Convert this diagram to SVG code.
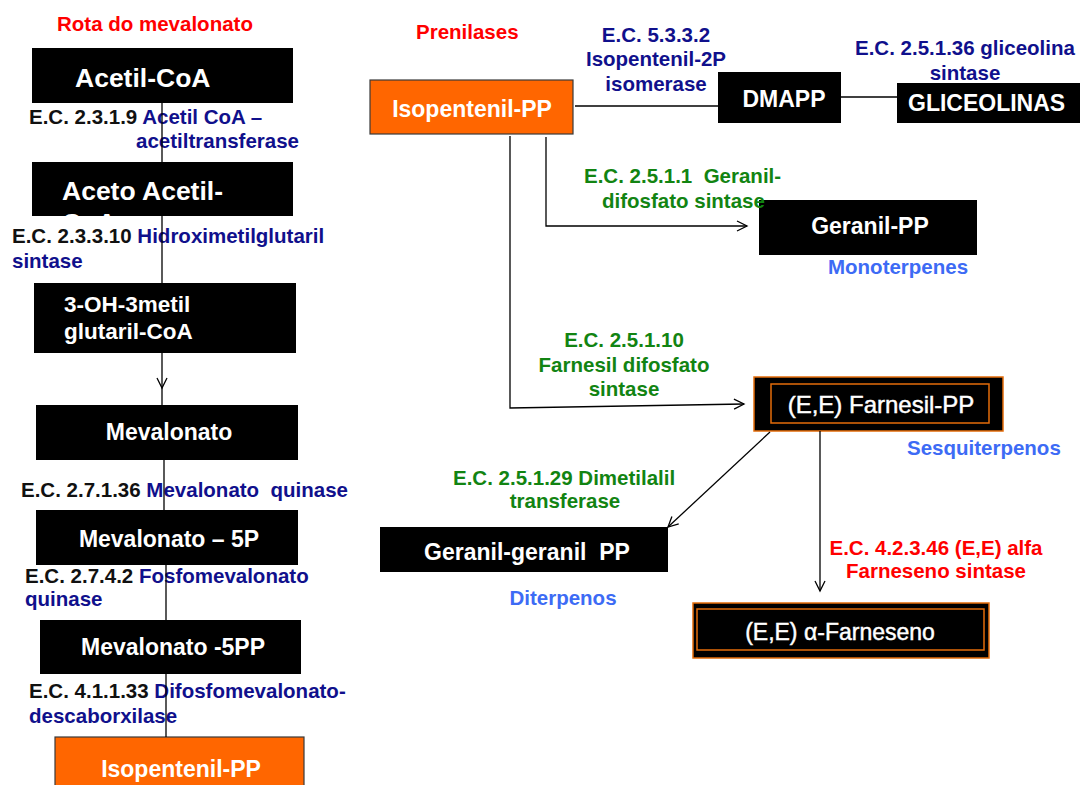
<svg xmlns="http://www.w3.org/2000/svg" width="1080" height="785" viewBox="0 0 1080 785">
<style>
text{font-family:"Liberation Sans",Arial,sans-serif;font-weight:bold}
.lab{font-size:20.5px}
.node{fill:#000}
.orange{fill:#FF6600;stroke:#3a3a3a;stroke-width:1.2}
.nt{fill:#fff;font-size:23px}
.big{fill:#fff;font-size:26.5px}
.reg{font-weight:normal;stroke:#fff;stroke-width:0.45}
.k{fill:#111}
.nv{fill:#10108C}
.gr{fill:#128412}
.bl{fill:#3D6BF5}
.rd{fill:#FF0000}
.c{text-anchor:middle}
.ln{stroke:#000;stroke-width:1.3;fill:none}
.ob{stroke:#E46C0A;stroke-width:1.5}
</style>
<defs>
<marker id="arr" markerUnits="userSpaceOnUse" markerWidth="14" markerHeight="14" viewBox="0 0 14 14" refX="12" refY="7" orient="auto">
<path d="M2,2 L12,7 L2,12" fill="none" stroke="#000" stroke-width="1.3"/>
</marker>
<clipPath id="acetoClip"><rect x="32" y="162" width="261" height="55"/></clipPath>
</defs>
<rect width="1080" height="785" fill="#fff"/>

<!-- titles -->
<text class="lab rd" x="57" y="31">Rota do mevalonato</text>
<text class="lab rd" x="416" y="39">Prenilases</text>

<!-- left column nodes -->
<g id="acetilcoa"><rect class="node" x="32" y="48" width="261" height="55"/><text class="big" x="75" y="87">Acetil-CoA</text></g>
<g id="acetoacetil"><rect class="node" x="32" y="162" width="261" height="54"/><g clip-path="url(#acetoClip)"><text class="big" x="62" y="200">Aceto Acetil-</text><text class="big" x="62" y="232">CoA</text></g></g>
<g id="hmg"><rect class="node" x="34" y="283" width="262" height="70"/><text class="nt" x="64" y="312" style="font-size:22.5px">3-OH-3metil</text><text class="nt" x="64" y="339" style="font-size:22.5px">glutaril-CoA</text></g>
<g id="mevalonato"><rect class="node" x="36" y="405" width="262" height="55"/><text class="nt c" x="169" y="440">Mevalonato</text></g>
<g id="mev5p"><rect class="node" x="36" y="510" width="262" height="55"/><text class="nt c" x="169" y="547">Mevalonato – 5P</text></g>
<g id="mev5pp"><rect class="node" x="40" y="620" width="261" height="54"/><text class="nt c" x="173" y="655">Mevalonato -5PP</text></g>
<g id="ipp-left"><rect class="orange" x="55" y="737" width="249" height="60"/><text class="nt c" x="181" y="777">Isopentenil-PP</text></g>

<!-- left enzyme labels -->
<g id="ec1"><text class="lab" x="29" y="124"><tspan class="k">E.C. 2.3.1.9 </tspan><tspan class="nv">Acetil CoA –</tspan></text><text class="lab nv" x="136" y="148">acetiltransferase</text></g>
<g id="ec2"><text class="lab" x="12" y="243"><tspan class="k">E.C. 2.3.3.10 </tspan><tspan class="nv">Hidroximetilglutaril</tspan></text><text class="lab nv" x="12" y="268">sintase</text></g>
<g id="ec3"><text class="lab" x="21" y="497" xml:space="preserve"><tspan class="k">E.C. 2.7.1.36 </tspan><tspan class="nv">Mevalonato  quinase</tspan></text></g>
<g id="ec4"><text class="lab" x="25" y="583"><tspan class="k">E.C. 2.7.4.2 </tspan><tspan class="nv">Fosfomevalonato</tspan></text><text class="lab nv" x="25" y="606">quinase</text></g>
<g id="ec5"><text class="lab" x="29" y="698"><tspan class="k">E.C. 4.1.1.33 </tspan><tspan class="nv">Difosfomevalonato-</tspan></text><text class="lab nv" x="29" y="723">descaborxilase</text></g>

<!-- right nodes -->
<g id="ipp-right"><rect class="orange" x="370" y="80" width="203" height="54"/><text class="nt c" x="472" y="117">Isopentenil-PP</text></g>
<g id="dmapp"><rect class="node" x="718" y="72" width="123" height="51"/><text class="nt c" x="784" y="107">DMAPP</text></g>
<g id="gliceolinas"><rect class="node" x="897" y="83" width="190" height="40"/><text class="nt" x="908" y="111">GLICEOLINAS</text></g>
<g id="geranilpp"><rect class="node" x="759" y="200" width="218" height="55"/><text class="nt c" x="870" y="234">Geranil-PP</text></g>
<g id="farnesilpp"><rect class="node ob" x="754" y="377" width="249" height="54"/><rect class="ob" x="771" y="384" width="218" height="39" fill="none"/><text class="nt reg c" x="881" y="413" style="font-size:24px">(E,E) Farnesil-PP</text></g>
<g id="ggpp"><rect class="node" x="380" y="527" width="288" height="45"/><text class="nt c" x="527" y="560" xml:space="preserve">Geranil-geranil  PP</text></g>
<g id="farneseno"><rect class="node ob" x="693" y="603" width="296" height="55"/><rect class="ob" x="697" y="609" width="287" height="41" fill="none"/><text class="nt reg c" x="840" y="640">(E,E) α-Farneseno</text></g>

<!-- right labels -->
<g id="ec-isomerase"><text class="lab nv c" x="656" y="42">E.C. 5.3.3.2</text><text class="lab nv c" x="656" y="66">Isopentenil-2P</text><text class="lab nv c" x="656" y="91">isomerase</text></g>
<g id="ec-gliceolina"><text class="lab nv" x="855" y="55">E.C. 2.5.1.36 gliceolina</text><text class="lab nv c" x="965" y="80">sintase</text></g>
<g id="ec-geranil"><text class="lab gr" x="584" y="183" xml:space="preserve">E.C. 2.5.1.1  Geranil-</text><text class="lab gr" x="602" y="208">difosfato sintase</text></g>
<text class="lab bl" x="828" y="274">Monoterpenes</text>
<g id="ec-farnesil"><text class="lab gr c" x="624" y="347">E.C. 2.5.1.10</text><text class="lab gr c" x="624" y="372">Farnesil difosfato</text><text class="lab gr c" x="624" y="396">sintase</text></g>
<text class="lab bl" x="907" y="455">Sesquiterpenos</text>
<g id="ec-dimetilalil"><text class="lab gr" x="453" y="485">E.C. 2.5.1.29 Dimetilalil</text><text class="lab gr c" x="565" y="508">transferase</text></g>
<text class="lab bl c" x="563" y="605">Diterpenos</text>
<g id="ec-farneseno"><text class="lab rd c" x="936" y="555">E.C. 4.2.3.46 (E,E) alfa</text><text class="lab rd c" x="936" y="578">Farneseno sintase</text></g>

<!-- connectors -->
<g id="connectors" class="ln">
<line x1="162" y1="103" x2="162" y2="162"/>
<line x1="162" y1="216" x2="162" y2="283"/>
<line x1="162" y1="353" x2="162" y2="388" marker-end="url(#arr)"/>
<line x1="162" y1="388" x2="162" y2="405"/>
<line x1="164" y1="460" x2="164" y2="510"/>
<line x1="166" y1="565" x2="166" y2="620"/>
<line x1="166" y1="674" x2="166" y2="737"/>
<line x1="575" y1="106" x2="718" y2="106"/>
<line x1="841" y1="97" x2="897" y2="97"/>
<polyline points="546,137 546,226 747,226" marker-end="url(#arr)"/>
<polyline points="510,136 510,408 744,404" marker-end="url(#arr)"/>
<line x1="770" y1="432" x2="668" y2="527" marker-end="url(#arr)"/>
<line x1="820" y1="431" x2="820" y2="591" marker-end="url(#arr)"/>
</g>
</svg>
